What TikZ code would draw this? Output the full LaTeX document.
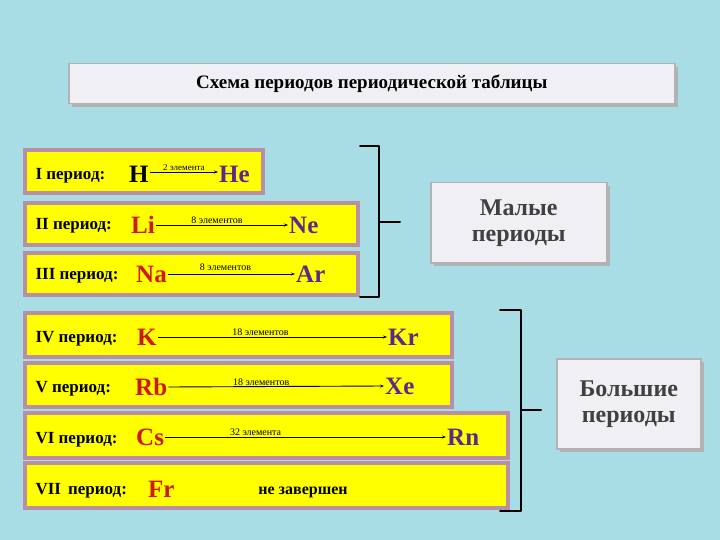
\documentclass[tikz,border=0pt]{standalone}
\usepackage{fontspec}
\setmainfont{Liberation Serif}
\usetikzlibrary{arrows.meta}
\definecolor{bg}{HTML}{A9DDE6}
\definecolor{ybox}{HTML}{FFFF00}
\definecolor{bord}{HTML}{B98FA6}
\definecolor{elr}{HTML}{D01808}
\definecolor{elp}{HTML}{5A2A8A}
\definecolor{gbox}{HTML}{F0F0F4}
\begin{document}
\begin{tikzpicture}[x=1pt,y=-1pt,
  row/.style={draw=bord,line width=3.5pt,fill=ybox},
  plab/.style={anchor=west,font=\bfseries\fontsize{17}{17}\selectfont},
  elA/.style={font=\bfseries\fontsize{25}{25}\selectfont,text=elr,inner sep=1pt},
  elB/.style={font=\bfseries\fontsize{25}{25}\selectfont,text=elp,inner sep=1pt},
  cnt/.style={font=\fontsize{10}{10}\selectfont,inner sep=0.5pt},
  arr/.style={-{Stealth[length=4pt]},line width=0.9pt},
  brk/.style={line width=2pt,line cap=round,line join=round},
  gb/.style={draw=gray!60,line width=1.5pt,fill=gbox,align=center,text=black!75,font=\bfseries\fontsize{24}{26}\selectfont}]
\fill[bg] (0,0) rectangle (720,540);
\useasboundingbox (0,0) rectangle (720,540);
% title
\fill[gray!60] (72,67) rectangle (678,107);
\node[draw=gray!60,line width=1.5pt,fill=gbox,minimum width=606pt,minimum height=40pt,anchor=north west,inner sep=0,font=\bfseries\fontsize{19}{19}\selectfont] (title) at (68,63) {Схема периодов периодической таблицы};
% rows
\draw[row] (25,150) rectangle (263,193);
\draw[row] (25,203) rectangle (358,245);
\draw[row] (25,253) rectangle (358,295);
\draw[row] (25,313) rectangle (452,357);
\draw[row] (25,363) rectangle (452,407);
\draw[row] (25,413) rectangle (508,458);
\draw[row] (25,463) rectangle (508,508);
\node[plab] (p1) at (32,176) {I период:};
\node[plab] (p2) at (32,226) {II период:};
\node[plab] (p3) at (32,276) {III период:};
\node[plab] (p4) at (32,339) {IV период:};
\node[plab] (p5) at (32,389) {V период:};
\node[plab] (p6) at (32,440) {VI период:};
\node[plab] (p7) at (32,491) {VII\, период:};
\node[elB,text=black,anchor=west] (H) at (128,174) {H};
\node[elB,anchor=west] (He) at (218,174) {He};
\node[elA,anchor=west] (Li) at (130,225) {Li};
\node[elB,anchor=west] (Ne) at (288,225) {Ne};
\node[elA,anchor=west] (Na) at (135,274) {Na};
\node[elB,anchor=west] (Ar) at (295,274) {Ar};
\node[elA,anchor=west] (K) at (136,337) {K};
\node[elB,anchor=west] (Kr) at (387,337) {Kr};
\node[elA,anchor=west] (Rb) at (134,387) {Rb};
\node[elB,anchor=west] (Xe) at (384,386) {Xe};
\node[elA,anchor=west] (Cs) at (135,437) {Cs};
\node[elB,anchor=west] (Rn) at (446,437) {Rn};
\node[elA,anchor=west] (Fr) at (147,489) {Fr};
\draw[arr] (H.east |- 0,172) -- (He.west |- 0,172) node[cnt,midway,above,font=\fontsize{9}{9}\selectfont] {2 элемента};
\draw[arr] (Li.east) -- (Ne.west) node[cnt,midway,above,xshift=-5pt] {8 элементов};
\draw[arr] (Na.east) -- (Ar.west) node[cnt,midway,above,xshift=-6pt,yshift=2pt] {8 элементов};
\draw[arr] (K.east) -- (Kr.west) node[cnt,midway,above,xshift=-12pt] {18 элементов};
\draw[arr] (Rb.east) -- (Xe.west) node[cnt,midway,above,xshift=-15pt] {18 элементов};
\draw[arr] (Cs.east) -- (Rn.west) node[cnt,midway,above,xshift=-50pt] {32 элемента};
\node[font=\bfseries\fontsize{16}{16}\selectfont] (nz) at (303,492) {не завершен};
% group boxes
\fill[gray!60] (434,186) rectangle (610,266);
\node[gb,minimum width=176pt,minimum height=80pt,anchor=north west,inner sep=0] (mal) at (430,182) {Малые\\периоды};
\fill[gray!60] (560,362) rectangle (704,452);
\node[gb,minimum width=144pt,minimum height=90pt,anchor=north west,inner sep=0] (bol) at (556,358) {Большие\\периоды};
% brackets
\coordinate (b1t) at (360,146);
\coordinate (b1b) at (360,297);
\coordinate (b1p) at (400,222);
\draw[brk] (b1t) -- (379,146) -- (379,297) -- (b1b);
\draw[brk] (379,222) -- (b1p);
\coordinate (b2t) at (500,310);
\coordinate (b2b) at (500,511);
\coordinate (b2p) at (541,410);
\draw[brk] (b2t) -- (521,310) -- (521,511) -- (b2b);
\draw[brk] (521,410) -- (b2p);
\end{tikzpicture}
\end{document}
